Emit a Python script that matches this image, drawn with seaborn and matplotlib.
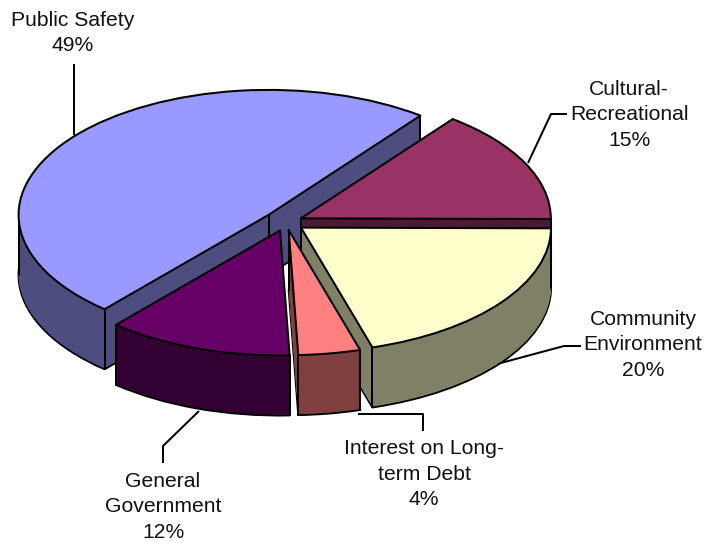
import numpy as np
import matplotlib
matplotlib.use("Agg")
import matplotlib.pyplot as plt
import seaborn as sns

categories = ["Public Safety", "General\nGovernment", "Interest on Long-\nterm Debt",
              "Community\nEnvironment", "Cultural-\nRecreational"]
shares = [49.0, 12.0, 4.0, 20.3, 14.7]
top_colors = ["#9999FF", "#660066", "#FF8080", "#FFFFCC", "#993366"]
side_colors = ["#4D4D80", "#330033", "#804040", "#808066", "#4D1A33"]

W, H = 706, 545
SQUASH = 0.5
explode_frac = [0.09, 0.072, 0.066, 0.075, 0.066]
draw_rank = [0, 3, 4, 2, 1]
START_ANGLE = 229.0 - 176.4
RADIUS = 250
DEPTH = 60
CX, CY = 286, 222


def X(px):
    return px


def Y(py):
    return (H - py) / SQUASH


sns.set_theme(style="white")
plt.rcParams["font.family"] = ["Liberation Sans", "DejaVu Sans"]

fig = plt.figure(figsize=(W / 100, H / 100), dpi=100, facecolor="white")
ax = fig.add_axes([0, 0, 1, 1])
LW = 1.45
explode = [e * RADIUS for e in explode_frac]


def layer(offset, colors, edge=None):
    props = {"linewidth": LW if edge else 0, "edgecolor": edge or "none", "joinstyle": "round"}
    wedges, _ = ax.pie(shares, explode=explode, colors=colors, startangle=START_ANGLE,
                       radius=RADIUS, center=(X(CX), Y(CY + offset)), wedgeprops=props)
    return wedges


def apply_order(wedges, z):
    for w, r in zip(wedges, draw_rank):
        w.set_zorder(10 * (r + 1) + z)


# extruded walls: bottom rim, fill, vertical edges, then the top face
apply_order(layer(DEPTH, side_colors, "black"), 0)
for d in range(DEPTH - 1, 0, -1):
    apply_order(layer(d, side_colors), 1)
top = layer(0, top_colors, "black")
apply_order(top, 3)


def in_wedge(w, x, y):
    dx, dy = x - w.center[0], y - w.center[1]
    if np.hypot(dx, dy) > w.r:
        return False
    return (np.degrees(np.arctan2(dy, dx)) - w.theta1) % 360 <= (w.theta2 - w.theta1)


for w, r in zip(top, draw_rank):
    cx, cy = w.center
    pts = [(cx, cy)]
    for a in (w.theta1, w.theta2):
        pts.append((cx + w.r * np.cos(np.radians(a)), cy + w.r * np.sin(np.radians(a))))
    for a in (0, 180):
        if (a - w.theta1) % 360 <= (w.theta2 - w.theta1):
            pts.append((cx + w.r * np.cos(np.radians(a)), cy))
    for x, y in pts:
        if not in_wedge(w, x, y - 6):
            ax.plot([x, x], [y, y - DEPTH / SQUASH], color="black", lw=LW,
                    solid_capstyle="round", zorder=10 * (r + 1) + 2)

# leader lines
leaders = [
    ([74, 74], [64, 135]),
    ([567, 551, 528], [114, 114, 163]),
    ([581, 564, 497], [346, 346, 364]),
    ([423, 423, 358], [431, 414, 414]),
    ([163, 163, 199], [463, 446, 411]),
]
for xs, ys in leaders:
    ax.plot([X(v) for v in xs], [Y(v) for v in ys], color="black", lw=LW,
            solid_capstyle="butt", zorder=1)

# labels
label_pos = [(73, 33), (163, 507), (424, 474), (643, 345), (629, 115)]
for name, share, (x, y) in zip(categories, shares, label_pos):
    ax.text(X(x), Y(y), f"{name}\n{share:.0f}%", ha="center", va="center", fontsize=15.2,
            color="#111111", linespacing=1.45, zorder=200)

ax.set_aspect("auto")
ax.set(xlim=(0, W), ylim=(0, H / SQUASH), xticks=[], yticks=[])
ax.set_frame_on(False)
fig.savefig("out.png", dpi=100, facecolor="white")
